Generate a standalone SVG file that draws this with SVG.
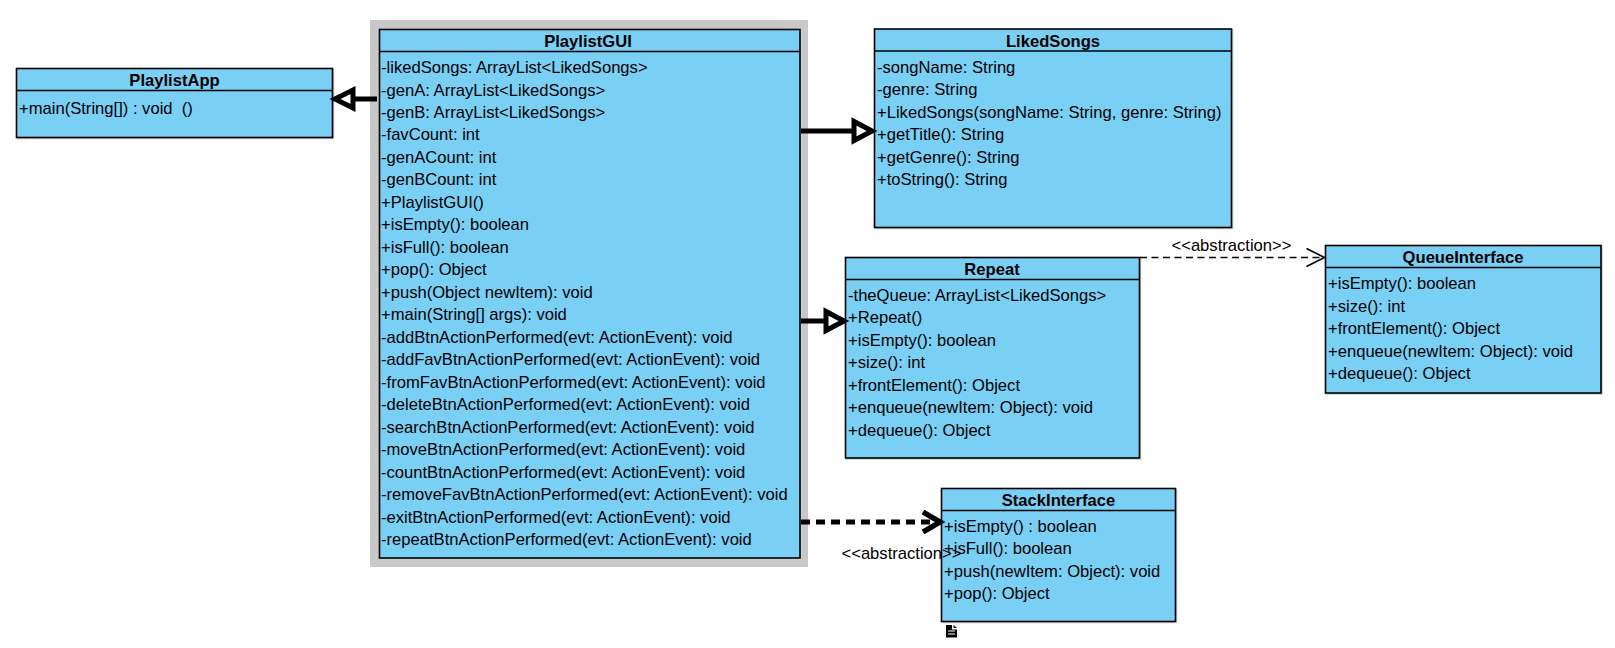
<svg xmlns="http://www.w3.org/2000/svg" width="1615" height="648" viewBox="0 0 1615 648">
<style>
text{font-family:"Liberation Sans",Arial,sans-serif;font-size:16.600px;fill:#000;white-space:pre}
.t{font-weight:bold;text-anchor:middle}
.b{fill:#7acff5;stroke:#000;stroke-width:1.600;filter:drop-shadow(1px 1px 0 #ccc)}
.l{stroke:#000;stroke-width:1.600;fill:none}
.c{stroke:#000;stroke-width:5;fill:none;stroke-linejoin:miter}
</style>
<rect x="0" y="0" width="1615" height="648" fill="#fff"/>
<rect x="370" y="20" width="438" height="547" fill="#c8c8c8"/>
<g id="PlaylistApp">
<rect class="b" x="16.500" y="68.500" width="316" height="69"/><line class="l" x1="16.500" y1="90.500" x2="332.500" y2="90.500"/>
<text class="t" x="174.500" y="86">PlaylistApp</text>
<text x="19" y="114">+main(String[]) : void  ()</text>
</g>
<g id="PlaylistGUI">
<rect class="b" x="379.500" y="29.500" width="420.500" height="528.500"/><line class="l" x1="379.500" y1="51.500" x2="800" y2="51.500"/>
<text class="t" x="588" y="47">PlaylistGUI</text>
<text x="381" y="73">-likedSongs: ArrayList&lt;LikedSongs&gt;</text>
<text x="381" y="95.500">-genA: ArrayList&lt;LikedSongs&gt;</text>
<text x="381" y="118">-genB: ArrayList&lt;LikedSongs&gt;</text>
<text x="381" y="140">-favCount: int</text>
<text x="381" y="162.500">-genACount: int</text>
<text x="381" y="185">-genBCount: int</text>
<text x="381" y="207.500">+PlaylistGUI()</text>
<text x="381" y="230">+isEmpty(): boolean</text>
<text x="381" y="253">+isFull(): boolean</text>
<text x="381" y="275">+pop(): Object</text>
<text x="381" y="297.500">+push(Object newItem): void</text>
<text x="381" y="320">+main(String[] args): void</text>
<text x="381" y="342.500">-addBtnActionPerformed(evt: ActionEvent): void</text>
<text x="381" y="365">-addFavBtnActionPerformed(evt: ActionEvent): void</text>
<text x="381" y="387.500">-fromFavBtnActionPerformed(evt: ActionEvent): void</text>
<text x="381" y="410">-deleteBtnActionPerformed(evt: ActionEvent): void</text>
<text x="381" y="432.500">-searchBtnActionPerformed(evt: ActionEvent): void</text>
<text x="381" y="455">-moveBtnActionPerformed(evt: ActionEvent): void</text>
<text x="381" y="477.500">-countBtnActionPerformed(evt: ActionEvent): void</text>
<text x="381" y="500">-removeFavBtnActionPerformed(evt: ActionEvent): void</text>
<text x="381" y="522.500">-exitBtnActionPerformed(evt: ActionEvent): void</text>
<text x="381" y="545">-repeatBtnActionPerformed(evt: ActionEvent): void</text>
</g>
<g id="LikedSongs">
<rect class="b" x="874.500" y="29" width="357" height="198.500"/><line class="l" x1="874.500" y1="51" x2="1231.500" y2="51"/>
<text class="t" x="1053" y="47">LikedSongs</text>
<text x="877" y="72.500">-songName: String</text>
<text x="877" y="95">-genre: String</text>
<text x="877" y="118">+LikedSongs(songName: String, genre: String)</text>
<text x="877" y="140">+getTitle(): String</text>
<text x="877" y="162.500">+getGenre(): String</text>
<text x="877" y="185">+toString(): String</text>
</g>
<g id="Repeat">
<rect class="b" x="845.500" y="257.500" width="294" height="200.500"/><line class="l" x1="845.500" y1="279.500" x2="1139.500" y2="279.500"/>
<text class="t" x="992" y="275">Repeat</text>
<text x="848" y="300.500">-theQueue: ArrayList&lt;LikedSongs&gt;</text>
<text x="848" y="323">+Repeat()</text>
<text x="848" y="345.500">+isEmpty(): boolean</text>
<text x="848" y="368">+size(): int</text>
<text x="848" y="390.500">+frontElement(): Object</text>
<text x="848" y="413">+enqueue(newItem: Object): void</text>
<text x="848" y="435.500">+dequeue(): Object</text>
</g>
<g id="QueueInterface">
<rect class="b" x="1325.500" y="245.500" width="275.500" height="147.500"/><line class="l" x1="1325.500" y1="267.500" x2="1601" y2="267.500"/>
<text class="t" x="1463" y="263">QueueInterface</text>
<text x="1328" y="289">+isEmpty(): boolean</text>
<text x="1328" y="311.500">+size(): int</text>
<text x="1328" y="334">+frontElement(): Object</text>
<text x="1328" y="356.500">+enqueue(newItem: Object): void</text>
<text x="1328" y="378.500">+dequeue(): Object</text>
</g>
<g id="StackInterface">
<rect class="b" x="941.500" y="488.500" width="234" height="133"/><line class="l" x1="941.500" y1="510.500" x2="1175.500" y2="510.500"/>
<text class="t" x="1058.500" y="506">StackInterface</text>
<text x="944" y="532">+isEmpty() : boolean</text>
<text x="944" y="554">+isFull(): boolean</text>
<text x="944" y="576.500">+push(newItem: Object): void</text>
<text x="944" y="599">+pop(): Object</text>
<path d="M946 625 H952 V629.500 H957 V637.500 H946 Z M953.500 625 L957 628 H953.500 Z" fill="#000"/>
<path d="M948 631 H955 M948 634 H955" stroke="#fff" stroke-width="1"/>
</g>
<g id="connectors">
<line class="c" x1="377" y1="99" x2="353" y2="99"/>
<path class="c" d="M335 99 L353 90 L353 108 Z"/>
<line class="c" x1="801" y1="131" x2="854" y2="131"/>
<path class="c" d="M872 131 L854 121.500 L854 140.500 Z"/>
<line class="c" x1="801" y1="321" x2="826" y2="321"/>
<path class="c" d="M844 321 L826 311.500 L826 330.500 Z"/>
<line x1="1140" y1="257.500" x2="1324" y2="257.500" stroke="#000" stroke-width="1.500" stroke-dasharray="7 4.500"/>
<path class="l" d="M1306.500 248.500 L1324.500 257.500 L1306.500 266.500"/>
<line class="c" x1="801" y1="522" x2="938" y2="522" stroke-dasharray="9 6"/>
<path class="c" style="stroke-width:5.500" d="M923 512 L940 522 L923 532"/>
<text x="1171.500" y="251">&lt;&lt;abstraction&gt;&gt;</text>
<text x="841.500" y="559">&lt;&lt;abstraction&gt;&gt;</text>
</g>
</svg>
